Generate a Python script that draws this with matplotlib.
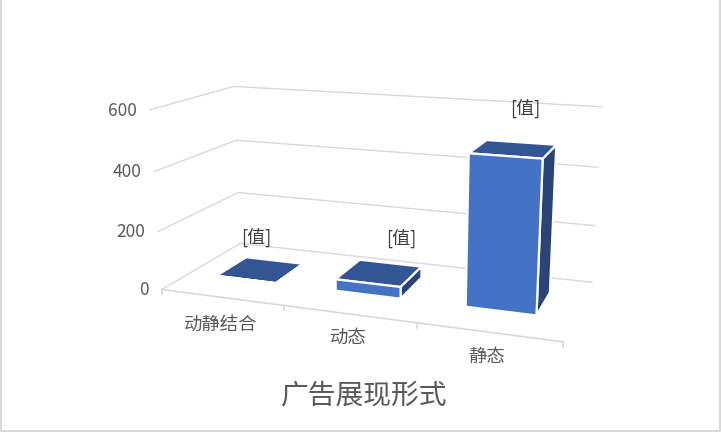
import matplotlib
matplotlib.use('Agg')
import matplotlib.pyplot as plt
from matplotlib.lines import Line2D
from mpl_toolkits.mplot3d import proj3d
import numpy as np

plt.rcParams['font.family'] = ['Noto Sans CJK SC', 'DejaVu Sans']

categories = ['动静结合', '动态', '静态']
values = [1, 40, 495]
y_ticks = [0, 200, 400, 600]
title = '广告展现形式'
data_label = '[值]'

TICK = '#595959'
GRID = '#d9d9d9'
FACES = ['#4472c4', '#335593', '#4472c4', '#4472c4', '#4472c4', '#2a4478']  # -z,+z,-y,+y,-x,+x

W, H = 721, 432
S, TX, TY = 550.36, 123.63, 486.49
fig = plt.figure(figsize=(W/100, H/100), dpi=100, facecolor='white')
ax = fig.add_axes([TX/W, (H-TY)/H, S/W, S/H], projection='3d')
ax.patch.set_alpha(0)
ax.computed_zorder = False
ax.set_proj_type('persp', focal_length=float(np.exp(-1.1017)))
ax.view_init(elev=14.9625, azim=-71.187, roll=-0.1861)
n = len(categories)
l, r, zb, zt = 0.1218, 0.5422, 35.5674, 20.3966
ymax = y_ticks[-1]
ax.set_xlim(-l, n+r); ax.set_ylim(0, 1); ax.set_zlim(-zb, ymax+zt)
ax.set_box_aspect((n+l+r, float(np.exp(0.2029)), float(np.exp(0.3005))*(ymax+zb+zt)/ymax))
ax.set_axis_off()


def label3d(x, y, z, s, **kw):
    xp, yp, _ = proj3d.proj_transform(x, y, z, ax.get_proj())
    ax.text2D(xp, yp, s, transform=ax.transData, va='center', zorder=5, **kw)


# gridlines on the two back walls
for t in y_ticks:
    ax.plot([0, 0, n], [0, 1, 1], [t, t, t], color=GRID, lw=1.0, zorder=1)
    label3d(-0.11, 0, t-6, str(t), color=TICK, fontsize=12.5, ha='right')
# category axis and its ticks
ax.plot([0, n], [0, 0], [0, 0], color=GRID, lw=1.2, zorder=1)
for i in range(n+1):
    ax.plot([i, i], [0, 0], [0, -16], color=GRID, lw=1.2, zorder=1)

label_x = [0.75, 1.65, 2.585]
label_y = [-0.39, -0.33, -0.32]
value_x = [0.46, 1.66, 2.56]
value_dz = [116, 128, 129]
for i, v in enumerate(values):
    ax.bar3d(i+0.23, 0.33, 0, 0.51, 0.40, v, color=FACES, edgecolor='white', linewidth=1.6,
             shade=False, zorder=2+i/10)
    label3d(value_x[i], 0.53, v+value_dz[i], data_label, color='#404040', fontsize=13, ha='center')
    label3d(label_x[i], label_y[i], 0, categories[i], color=TICK, fontsize=13.2, ha='center')

fig.text(364/W, 1-395/H, title, fontsize=20, color=TICK, ha='center', va='center')
xr, yb = 719.5/W, 1-430.5/H
fig.add_artist(Line2D([0.5/W, 0.5/W, xr, xr], [1, yb, yb, 1], transform=fig.transFigure,
                      color=GRID, lw=1.5))
fig.savefig('out.png', dpi=100)
